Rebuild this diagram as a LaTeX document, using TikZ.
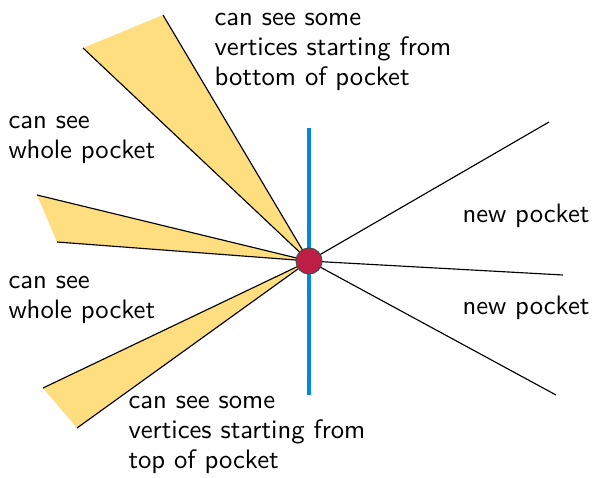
\documentclass[tikz,border=0pt]{standalone}
\usepackage{tikz}
\definecolor{wedgeyellow}{RGB}{255,222,128}
\definecolor{ptred}{RGB}{190,30,70}
\definecolor{lineblue}{RGB}{0,136,221}
\begin{document}
\begin{tikzpicture}[x=0.3937pt,y=-0.3937pt,
  wedge/.style={fill=wedgeyellow,draw=none},
  edge/.style={draw=black,line width=0.45pt},
  lbl/.style={font=\sffamily\fontsize{10.5}{11.8}\selectfont,align=left,anchor=base west,inner sep=0pt}]
\useasboundingbox (0,0) rectangle (593,477);
% apex and end points
\coordinate (c) at (309,261);
\coordinate (a1) at (83,48);
\coordinate (a2) at (163,15);
\coordinate (b1) at (37,195);
\coordinate (b2) at (57,242);
\coordinate (d1) at (43,388);
\coordinate (d2) at (77,428);
\coordinate (r1) at (549,122);
\coordinate (r2) at (563,275);
\coordinate (r3) at (556,395);
\coordinate (bt) at (309,128);
\coordinate (bb) at (309,395);
% wedges
\fill[wedge] (c) -- (a1) -- (a2) -- cycle;
\fill[wedge] (c) -- (b1) -- (b2) -- cycle;
\fill[wedge] (c) -- (d1) -- (d2) -- cycle;
\draw[edge] (a1) -- (c) -- (a2);
\draw[edge] (b1) -- (c) -- (b2);
\draw[edge] (d1) -- (c) -- (d2);
% new pocket lines
\draw[edge] (c) -- (r1);
\draw[edge] (c) -- (r2);
\draw[edge] (c) -- (r3);
% blue line
\draw[lineblue,line width=1.2pt] (bt) -- (bb);
% point
\node[circle,fill=ptred,draw=black!70,line width=0.4pt,minimum size=26*0.3937pt,inner sep=0pt] (p) at (c) {};
% labels
\node[lbl] (t1) at (214,85) {can see some\\vertices starting from\\bottom of pocket};
\node[lbl] (t2) at (8,158) {can see\\whole pocket};
\node[lbl] (t3) at (8,318) {can see\\whole pocket};
\node[lbl] (t4) at (128,468) {can see some\\vertices starting from\\top of pocket};
\node[lbl] (t5) at (462,222) {new pocket};
\node[lbl] (t6) at (462,314) {new pocket};
\end{tikzpicture}
\end{document}
